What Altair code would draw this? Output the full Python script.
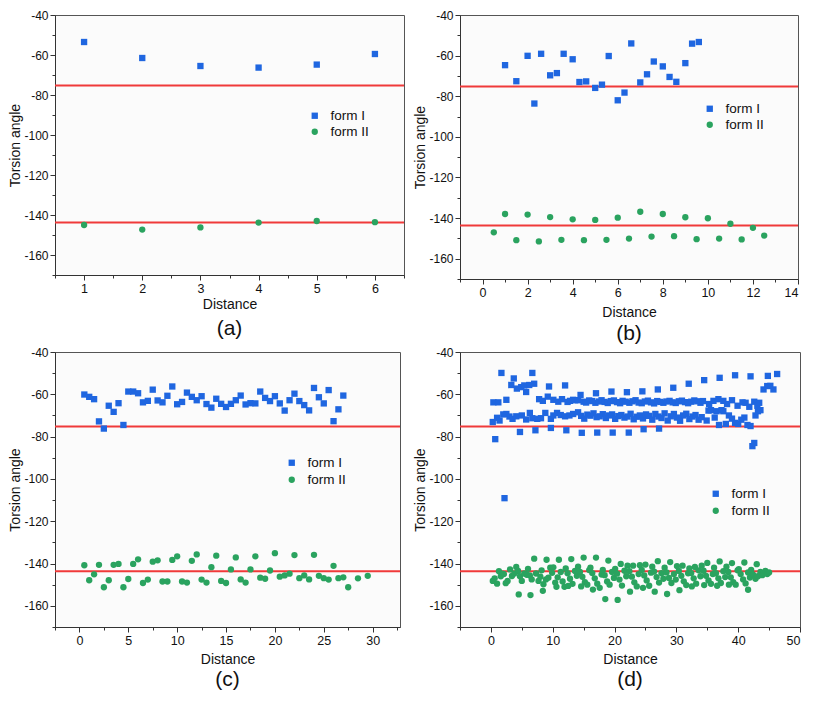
import altair as alt
import pandas as pd

FONT = "Liberation Sans"
BLUE = "#1f66e0"
GREEN = "#2aa35f"
RED = "#f03a3a"
TXT = "#111111"

# ---------------- data ----------------
ref_lines = [-75.2, -143.7]
y_ticks = [-170, -160, -150, -140, -130, -120, -110, -100, -90, -80, -70, -60, -50, -40]

# panel (a)
a_x = [1, 2, 3, 4, 5, 6]
a_form1 = [-53.5, -61.5, -65.5, -66.3, -64.8, -59.5]
a_form2 = [-145.0, -147.3, -146.2, -143.8, -143.0, -143.6]
a_xticks = [0.5, 1, 1.5, 2, 2.5, 3, 3.5, 4, 4.5, 5, 5.5, 6, 6.5]

# panel (b)
b1_x = [1.0, 1.5, 2.0, 2.3, 2.6, 3.0, 3.3, 3.6, 4.0, 4.3, 4.6, 5.0, 5.3, 5.6, 6.0, 6.3, 6.6,
        7.0, 7.3, 7.6, 8.0, 8.3, 8.6, 9.0, 9.3, 9.6]
b1_y = [-64.7, -72.6, -60.1, -83.6, -59.1, -69.7, -68.6, -59.1, -61.8, -73.0, -72.7, -75.9,
        -74.3, -60.2, -82.0, -78.2, -54.0, -73.2, -69.2, -62.9, -65.3, -70.5, -72.9, -63.7,
        -54.1, -53.3]
b2_x = [0.5, 1, 1.5, 2, 2.5, 3, 3.5, 4, 4.5, 5, 5.5, 6, 6.5, 7, 7.5, 8, 8.5, 9, 9.5, 10,
        10.5, 11, 11.5, 12, 12.5]
b2_y = [-147.0, -138.0, -150.9, -138.3, -151.5, -139.5, -150.7, -140.6, -150.9, -140.9,
        -150.7, -139.8, -150.1, -136.9, -149.1, -138.0, -148.9, -139.6, -150.4, -140.1,
        -150.1, -142.8, -150.5, -144.8, -148.6]
b_xticks = [-1, 0, 1, 2, 3, 4, 5, 6, 7, 8, 9, 10, 11, 12, 13, 14]

# panel (c)
c1_x = [0.5, 1, 1.5, 2, 2.5, 3, 3.5, 4, 4.5, 5, 5.5, 6, 6.5, 7, 7.5, 8, 8.5, 9, 9.5, 10,
        10.5, 11, 11.5, 12, 12.5, 13, 13.5, 14, 14.5, 15, 15.5, 16, 16.5, 17, 17.5, 18,
        18.5, 19, 19.5, 20, 20.5, 21, 21.5, 22, 22.5, 23, 23.5, 24, 24.5, 25, 25.5, 26,
        26.5, 27]
c1_y = [-60.1, -61.2, -62.3, -72.8, -76.2, -65.4, -68.3, -64.2, -74.5, -58.7, -58.7, -59.5,
        -63.8, -63.1, -57.8, -62.9, -63.8, -60.7, -56.3, -64.7, -63.6, -59.2, -61.2, -62.8,
        -60.9, -64.6, -66.3, -62.1, -64.5, -66.0, -64.5, -62.8, -60.6, -64.8, -64.2, -64.3,
        -58.7, -61.7, -63.2, -60.9, -64.3, -67.7, -62.8, -59.7, -63.2, -65.1, -67.6, -57.0,
        -61.4, -64.3, -58.0, -72.7, -67.1, -60.6]
c2_x = [0.5, 1, 1.5, 2, 2.5, 3, 3.5, 4, 4.5, 5, 5.5, 6, 6.5, 7, 7.5, 8, 8.5, 9, 9.5, 10,
        10.5, 11, 11.5, 12, 12.5, 13, 13.5, 14, 14.5, 15, 15.5, 16, 16.5, 17, 17.5, 18,
        18.5, 19, 19.5, 20, 20.5, 21, 21.5, 22, 22.5, 23, 23.5, 24, 24.5, 25, 25.5, 26,
        26.5, 27, 27.5, 28.5, 29.5]
c2_y = [-140.8, -147.9, -145.1, -140.6, -151.2, -147.9, -140.6, -140.2, -151.2, -147.3,
        -140.2, -138.0, -149.2, -147.6, -139.1, -138.5, -148.5, -148.5, -138.3, -136.6,
        -148.5, -149.0, -138.7, -135.7, -147.6, -149.0, -141.7, -136.3, -148.2, -149.2,
        -142.8, -137.1, -147.5, -149.0, -142.8, -136.6, -146.7, -147.2, -143.3, -135.1,
        -146.2, -145.6, -144.8, -136.0, -146.9, -145.6, -147.5, -135.9, -145.8, -146.9,
        -147.6, -141.1, -146.9, -146.5, -151.2, -147.0, -145.8]
c_xticks = [-2.5, 0, 2.5, 5, 7.5, 10, 12.5, 15, 17.5, 20, 22.5, 25, 27.5, 30, 32.5]

# panel (d) form I
d1_upper_x = [0.4, 1.2, 2.5, 3.3, 4.2, 4.9, 5.4, 5.7, 6.2, 7.0, 7.8, 8.4, 9.2, 10.1, 10.9,
              11.5, 12.4, 12.8, 13.3, 13.6, 14.1, 15.0, 15.4, 15.9, 16.4, 16.9, 17.5, 17.9,
              18.4, 18.9, 19.4, 19.9, 20.4, 20.9, 21.3, 21.8, 22.4, 22.9, 23.4, 23.9, 24.4,
              24.9, 25.4, 25.9, 26.4, 26.9, 27.4, 27.9, 28.4, 28.9, 29.4, 29.9, 30.4, 30.9,
              31.4, 31.9, 32.4, 32.9, 33.4, 33.9, 34.3, 35.3, 36.0, 36.8, 37.6, 38.2, 39.0,
              39.9, 40.7, 41.2, 41.8, 42.6, 43.1, 43.4, 44.1, 44.7, 45.2, 45.7]
d1_upper_y = [-63.8, -63.8, -62.6, -55.6, -57.3, -56.6, -55.8, -58.9, -55.6, -55.0, -62.3,
              -63.1, -61.1, -62.6, -63.5, -62.3, -63.6, -63.1, -62.6, -62.8, -62.8, -63.5,
              -63.9, -62.9, -63.2, -64.0, -63.4, -62.8, -63.6, -64.1, -63.2, -62.9, -63.7,
              -64.2, -63.1, -63.5, -64.0, -63.3, -62.8, -63.9, -64.2, -63.4, -63.0, -63.8,
              -64.3, -63.2, -63.6, -64.0, -63.4, -63.1, -63.8, -64.1, -63.3, -63.0, -63.7,
              -64.2, -63.5, -62.9, -63.3, -64.0, -63.2, -64.6, -63.1, -62.3, -63.1, -64.6,
              -62.8, -65.4, -63.8, -64.0, -65.9, -63.5, -65.4, -64.0, -57.7, -56.1, -56.0,
              -57.7]
d1_lower_x = [0.3, 1.0, 1.4, 2.0, 2.5, 3.0, 3.5, 4.1, 5.0, 5.7, 6.3, 6.7, 7.5, 8.1, 8.8,
              9.7, 10.1, 10.7, 11.3, 12.0, 12.7, 13.3, 14.1, 14.6, 15.1, 15.6, 16.1, 16.6,
              17.1, 17.6, 18.1, 18.6, 19.1, 19.6, 20.1, 20.6, 21.1, 21.6, 22.1, 22.6, 23.1,
              23.6, 24.1, 24.6, 25.1, 25.6, 26.1, 26.6, 27.1, 27.6, 28.1, 28.6, 29.1, 29.6,
              30.1, 30.6, 31.1, 31.6, 32.1, 32.6, 33.1, 33.6, 34.1, 34.9, 35.2, 35.6, 36.2,
              36.5, 36.9, 37.3, 37.6, 38.0, 38.5, 39.0, 39.5, 40.0, 40.5, 41.0, 41.5, 42.0,
              42.8, 43.2, 43.6]
d1_lower_y = [-73.1, -71.1, -72.4, -69.5, -69.3, -70.5, -71.6, -70.4, -70.0, -71.9, -68.8,
              -71.3, -71.6, -71.3, -68.8, -71.6, -70.0, -68.8, -69.8, -70.4, -70.0, -69.3,
              -68.5, -70.2, -71.5, -69.6, -70.1, -69.0, -70.8, -70.4, -69.4, -71.2, -70.0,
              -69.5, -71.6, -70.3, -69.8, -71.0, -70.5, -69.2, -71.8, -70.6, -70.0, -71.4,
              -69.5, -70.2, -72.0, -69.3, -70.5, -71.2, -69.0, -72.4, -70.4, -69.3, -71.0,
              -72.5, -70.0, -69.2, -71.7, -70.5, -69.8, -72.0, -70.8, -72.4, -67.7, -67.5,
              -71.0, -68.0, -74.5, -67.5, -68.0, -74.0, -70.0, -71.5, -73.5, -74.0, -72.0,
              -71.0, -74.5, -75.0, -70.0, -68.0, -67.5]
d1_high_x = [1.7, 3.7, 6.7, 9.4, 12.0, 14.5, 17.0, 19.5, 22.0, 24.5, 27.0, 29.5, 32.0, 34.5,
             37.0, 39.5, 42.0, 44.8, 46.3]
d1_high_y = [-49.9, -52.5, -49.9, -56.3, -55.8, -60.3, -59.5, -58.7, -59.0, -58.6, -57.7,
             -56.9, -55.0, -53.3, -52.2, -51.0, -51.5, -51.3, -50.4]
d1_low_x = [0.7, 4.7, 7.2, 9.7, 12.2, 14.7, 17.2, 19.7, 22.3, 24.7, 27.2, 2.2, 42.3, 42.6]
d1_low_y = [-81.2, -77.8, -77.0, -75.9, -77.0, -78.2, -78.1, -78.1, -78.1, -76.5, -76.2,
            -109.1, -84.5, -83.0]

# panel (d) form II
d2_top_x = [7, 9, 11, 13, 15, 17, 19, 21, 23, 25, 27, 29, 31, 33, 35, 37, 39, 41, 43]
d2_top_y = [-137.7, -138.2, -138.2, -137.9, -137.2, -137.2, -138.6, -140.2, -141.0, -140.5,
            -138.9, -139.3, -141.0, -141.6, -139.7, -139.0, -139.8, -139.5, -140.3]
d2_bot_x = [4.5, 6.4, 8.4, 10.6, 12.5, 14.6, 16.5, 18.5, 20.5, 22.5, 24.6, 26.5, 28.5, 30.5,
            32.5, 34.5, 36.6, 38.5, 41.6]
d2_bot_y = [-154.6, -154.9, -152.9, -151.0, -150.6, -150.8, -152.3, -156.8, -157.2, -153.3,
            -151.5, -153.3, -154.4, -152.6, -150.8, -150.2, -150.5, -150.0, -152.4]
d2_mid_x = [0.3, 0.6, 1.0, 1.3, 1.6, 1.9, 2.1, 2.4, 2.7, 3.1, 3.4, 3.8, 4.1, 4.4, 4.7, 5.0,
            5.4, 5.8, 6.0, 6.3, 6.6, 7.3, 7.7, 8.0, 8.2, 8.5, 8.9, 9.3, 9.6, 9.9, 10.1, 10.4,
            10.8, 11.3, 11.6, 11.9, 12.1, 12.4, 12.8, 13.2, 13.6, 13.9, 14.1, 14.4, 14.8,
            15.2, 15.6, 15.9, 16.1, 16.4, 16.8, 17.2, 17.6, 17.9, 18.1, 18.4, 18.8, 19.2,
            19.6, 19.9, 20.1, 20.4, 20.8, 21.2, 21.6, 21.9, 22.1, 22.4, 22.8, 23.2, 23.6,
            23.9, 24.1, 24.4, 24.8, 25.2, 25.6, 25.9, 26.1, 26.4, 26.8, 27.2, 27.6, 27.9,
            28.1, 28.4, 28.8, 29.2, 29.6, 29.9, 30.1, 30.4, 30.8, 31.2, 31.6, 31.9, 32.1,
            32.4, 32.8, 33.2, 33.6, 33.9, 34.1, 34.4, 34.8, 35.2, 35.6, 35.9, 36.1, 36.4,
            36.8, 37.2, 37.6, 37.9, 38.1, 38.4, 38.8, 39.2, 39.6, 39.9, 40.1, 40.4, 40.8,
            41.2, 41.6, 41.9, 42.1, 42.4, 42.8, 43.2, 43.6, 43.9, 44.1, 44.4, 44.7, 45.0]
d2_mid_y = [-148.2, -147.0, -149.5, -143.6, -146.0, -144.8, -145.0, -149.3, -148.2, -142.8,
            -145.9, -144.7, -141.6, -143.5, -146.0, -148.2, -144.7, -145.3, -142.5, -145.6,
            -147.5, -144.7, -148.2, -146.2, -143.2, -149.8, -147.5, -146.7, -142.0, -144.4,
            -141.8, -149.0, -146.5, -144.0, -148.5, -151.0, -142.3, -144.6, -147.2, -149.6,
            -143.5, -145.8, -141.5, -144.0, -146.3, -148.8, -150.0, -143.1, -142.0, -144.5,
            -147.0, -149.5, -151.5, -145.2, -143.0, -145.5, -148.5, -150.0, -144.0, -146.8,
            -142.5, -144.8, -147.6, -150.4, -143.4, -146.0, -141.0, -143.6, -146.2, -148.9,
            -150.8, -145.0, -140.8, -143.0, -145.6, -148.0, -150.5, -144.3, -141.5, -143.8,
            -146.4, -149.0, -144.6, -147.2, -142.0, -144.2, -146.8, -149.2, -145.0, -147.6,
            -141.2, -143.5, -145.8, -148.4, -150.2, -144.6, -142.3, -144.5, -147.0, -149.5,
            -143.2, -146.0, -141.0, -143.4, -145.8, -148.0, -149.6, -145.0, -142.0, -144.6,
            -147.0, -149.2, -143.6, -146.4, -141.5, -144.0, -146.5, -148.8, -150.0, -143.2,
            -142.6, -145.0, -147.5, -149.4, -144.2, -146.6, -143.0, -145.2, -147.2, -146.0,
            -144.0, -145.5, -144.6, -143.5, -145.0, -144.2]
d_xticks = [-5, 0, 5, 10, 15, 20, 25, 30, 35, 40, 45, 50]


def frame(x1, y1, x2, y2):
    rows = [{"x": x, "y": y, "form": "form I"} for x, y in zip(x1, y1)]
    rows += [{"x": x, "y": y, "form": "form II"} for x, y in zip(x2, y2)]
    return pd.DataFrame(rows)


df_a = frame(a_x, a_form1, a_x, a_form2)
df_b = frame(b1_x, b1_y, b2_x, b2_y)
df_c = frame(c1_x, c1_y, c2_x, c2_y)
df_d = frame(d1_upper_x + d1_lower_x + d1_high_x + d1_low_x,
             d1_upper_y + d1_lower_y + d1_high_y + d1_low_y,
             d2_top_x + d2_mid_x + d2_bot_x,
             d2_top_y + d2_mid_y + d2_bot_y)
df_ref = pd.DataFrame({"y": ref_lines})


def panel(df, xdom, xticks, major, w, h, lx, ly, label, xtitle_pad, title_off, row_pad):
    ytest = "datum.value % 20 === 0"
    yaxis = alt.Axis(values=y_ticks, labelExpr=f"{ytest} ? toString(datum.value) : ''",
                     tickSize={"condition": {"test": ytest, "value": 5}, "value": 3},
                     title="Torsion angle", titleFont=FONT, titleFontSize=14,
                     titleFontWeight="normal", titleColor=TXT, titlePadding=1,
                     labelFont=FONT, labelFontSize=12, labelColor=TXT, labelPadding=2,
                     labelOverlap=False, grid=False, domainColor="#333", tickColor="#333")
    xtest = f"datum.value % {major} === 0"
    xaxis = alt.Axis(values=xticks, labelExpr=f"{xtest} ? toString(datum.value) : ''",
                     tickSize={"condition": {"test": xtest, "value": 5}, "value": 3},
                     title="Distance", titleFont=FONT, titleFontSize=14,
                     titleFontWeight="normal", titleColor=TXT, titlePadding=xtitle_pad,
                     labelFont=FONT, labelFontSize=12.5, labelColor=TXT, labelPadding=2,
                     labelOverlap=False, grid=False, domainColor="#333", tickColor="#333")
    xs = alt.Scale(domain=xdom, nice=False, zero=False)
    ys = alt.Scale(domain=[-170, -40], nice=False, zero=False)
    leg = alt.Legend(orient="none", legendX=lx, legendY=ly, title=None, labelFont=FONT,
                     labelFontSize=13.5, labelColor=TXT, symbolSize=40, labelOffset=9,
                     rowPadding=row_pad, padding=0, symbolStrokeWidth=0)
    rules = alt.Chart(df_ref).mark_rule(color=RED, strokeWidth=2).encode(
        y=alt.Y("y:Q", scale=ys, axis=yaxis))
    pts = alt.Chart(df).mark_point(filled=True, opacity=1, size=40).encode(
        x=alt.X("x:Q", scale=xs, axis=xaxis),
        y=alt.Y("y:Q", scale=ys, axis=yaxis),
        color=alt.Color("form:N", scale=alt.Scale(domain=["form I", "form II"],
                                                   range=[BLUE, GREEN]), legend=leg),
        shape=alt.Shape("form:N", scale=alt.Scale(domain=["form I", "form II"],
                                                   range=["square", "circle"]), legend=leg),
    )
    return alt.layer(rules, pts).properties(
        width=w, height=h,
        title=alt.TitleParams(text=label, orient="bottom", fontSize=21, font=FONT,
                              fontWeight="normal", color=TXT, offset=title_off,
                              anchor="middle"))


pa = panel(df_a, [0.5, 6.5], a_xticks, 1, 349, 260, 253, 94, "(a)", 3, 6, 1)
pb = panel(df_b, [-1, 14], b_xticks, 2, 338, 264, 243, 87, "(b)", 7, 3, 1)
pc = panel(df_c, [-2.5, 32.8], c_xticks, 5, 345, 275, 230, 104, "(c)", 6, 2, 2)
pd_ = panel(df_d, [-5, 50], d_xticks, 10, 340, 275, 249, 135, "(d)", 6, 2, 2)

chart = alt.concat(pa, pb, pc, pd_, columns=2, spacing={"row": 73, "column": 56},
                   bounds="flush", align="each").resolve_scale(
    color="independent", shape="independent").resolve_legend(
    color="independent", shape="independent").configure_view(
    stroke="#555555", strokeWidth=1, fill="#fbfbfb").properties(
    padding={"left": 0, "top": 0, "right": 0, "bottom": 0})

chart.save("out.html", embed_options={"renderer": "svg", "actions": False})
